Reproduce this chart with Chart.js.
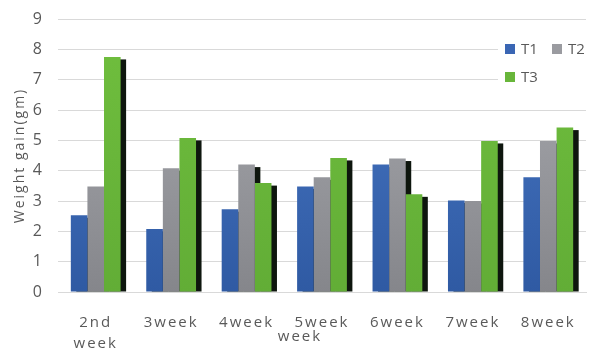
<!DOCTYPE html>
<html>
<head>
<meta charset="utf-8">
<script src="https://cdn.jsdelivr.net/npm/chart.js@4"></script>
<style>
    html, body { margin: 0; padding: 0; background: #ffffff; overflow: hidden; }
    #frame { width: 590px; height: 354px; overflow: hidden; position: relative; }
    #wrap { position: absolute; left: 0; top: -3px; width: 590px; height: 357px; }
</style>
</head>
<body>
<div id="frame"><div id="wrap"><canvas id="chart-weight-gain"></canvas></div></div>
<script>
// Weight gain per week for three treatments
const weeks = [['2nd', 'week'], '3week', '4week', '5week', '6week', '7week', '8week'];
const t1 = [2.53, 2.08, 2.73, 3.48, 4.2, 3.02, 3.78];
const t2 = [3.48, 4.08, 4.2, 3.78, 4.4, 3.0, 4.98];
const t3 = [7.75, 5.08, 3.59, 4.42, 3.22, 4.98, 5.42];
const yTicks = [0, 1, 2, 3, 4, 5, 6, 7, 8, 9];

const textColor = '#595959';
const fontFamily = '"Open Sans", sans-serif';

// vertical fill for each series, lighter on top
function barFill(top, bottom) {
    return function (context) {
        const area = context.chart.chartArea;
        if (!area) return top;
        const g = context.chart.ctx.createLinearGradient(0, area.top, 0, area.bottom);
        g.addColorStop(0, top);
        g.addColorStop(1, bottom);
        return g;
    };
}

// wider letter spacing for the axis texts
const spacing = {
    id: 'spacing',
    beforeUpdate(chart) { chart.ctx.letterSpacing = '2px'; },
    beforeDraw(chart) { chart.ctx.letterSpacing = '2px'; }
};

// dark offset strip behind every bar
const barShadow = {
    id: 'barShadow',
    beforeDatasetsDraw(chart) {
        const ctx = chart.ctx;
        ctx.save();
        ctx.fillStyle = '#0e160e';
        chart.data.datasets.forEach((ds, i) => {
            chart.getDatasetMeta(i).data.forEach(bar => {
                const left = bar.x - bar.width / 2 + 5.5;
                ctx.fillRect(left, bar.y + 2.5, bar.width, bar.base - bar.y - 2.5);
            });
        });
        ctx.restore();
    }
};

// legend box in the top right corner and the x axis title
const extras = {
    id: 'extras',
    afterDraw(chart) {
        const ctx = chart.ctx;
        const ds = chart.data.datasets;
        ctx.save();
        ctx.letterSpacing = '0px';
        ctx.fillStyle = '#ffffff';
        ctx.fillRect(498, 37, 92, 58);
        ctx.font = '15px ' + fontFamily;
        ctx.textBaseline = 'middle';
        const spots = [[505, 52], [552, 52], [505, 80]];
        ds.forEach((d, i) => {
            const [x, y] = spots[i];
            ctx.fillStyle = d.legendColor;
            ctx.fillRect(x, y - 5, 10, 10);
            ctx.fillStyle = textColor;
            ctx.fillText(d.label, x + 16, y + 1);
        });
        ctx.letterSpacing = '2px';
        ctx.textAlign = 'center';
        ctx.fillText('week', 300, 340);
        ctx.restore();
    }
};

const ctw = document.getElementById('chart-weight-gain').getContext('2d');
const chart_weight_gain = new Chart(ctw, {
    type: 'bar',
    data: {
        labels: weeks,
        datasets: [
            { label: 'T1', data: t1, backgroundColor: barFill('#4a79c6', '#2f5aa3'), legendColor: '#3a66b4' },
            { label: 'T2', data: t2, backgroundColor: barFill('#abacb1', '#85868b'), legendColor: '#9a9ba0' },
            { label: 'T3', data: t3, backgroundColor: barFill('#70bf3e', '#62ad36'), legendColor: '#68b63a' }
        ]
    },
    options: {
        animation: false,
        responsive: true,
        maintainAspectRatio: false,
        datasets: {
            bar: {
                barPercentage: 1,
                categoryPercentage: 0.66,
                borderWidth: 0
            }
        },
        layout: {
            padding: { top: 0, right: 4, left: 12, bottom: 0 }
        },
        scales: {
            y: {
                min: 0,
                max: 9,
                afterBuildTicks: function (axis) {
                    axis.ticks = yTicks.map(v => ({ value: v }));
                },
                afterFit: function (axis) {
                    axis.width = 46;
                },
                grid: { color: '#d9d9d9', drawTicks: false },
                border: { display: false },
                ticks: {
                    color: textColor,
                    padding: 14,
                    font: { family: fontFamily, size: 16, lineHeight: 1 }
                },
                title: {
                    display: true,
                    text: 'Weight gain(gm)',
                    color: textColor,
                    padding: 0,
                    font: { family: fontFamily, size: 14 }
                }
            },
            x: {
                afterFit: function (axis) {
                    axis.height = 62;
                },
                grid: { display: false },
                border: { color: '#d9d9d9' },
                ticks: {
                    color: textColor,
                    padding: 12,
                    maxRotation: 0,
                    font: { family: fontFamily, size: 15, lineHeight: 1.4 }
                }
            }
        },
        plugins: {
            legend: { display: false },
            tooltip: { enabled: false }
        }
    },
    plugins: [spacing, barShadow, extras]
});
</script>
</body>
</html>
